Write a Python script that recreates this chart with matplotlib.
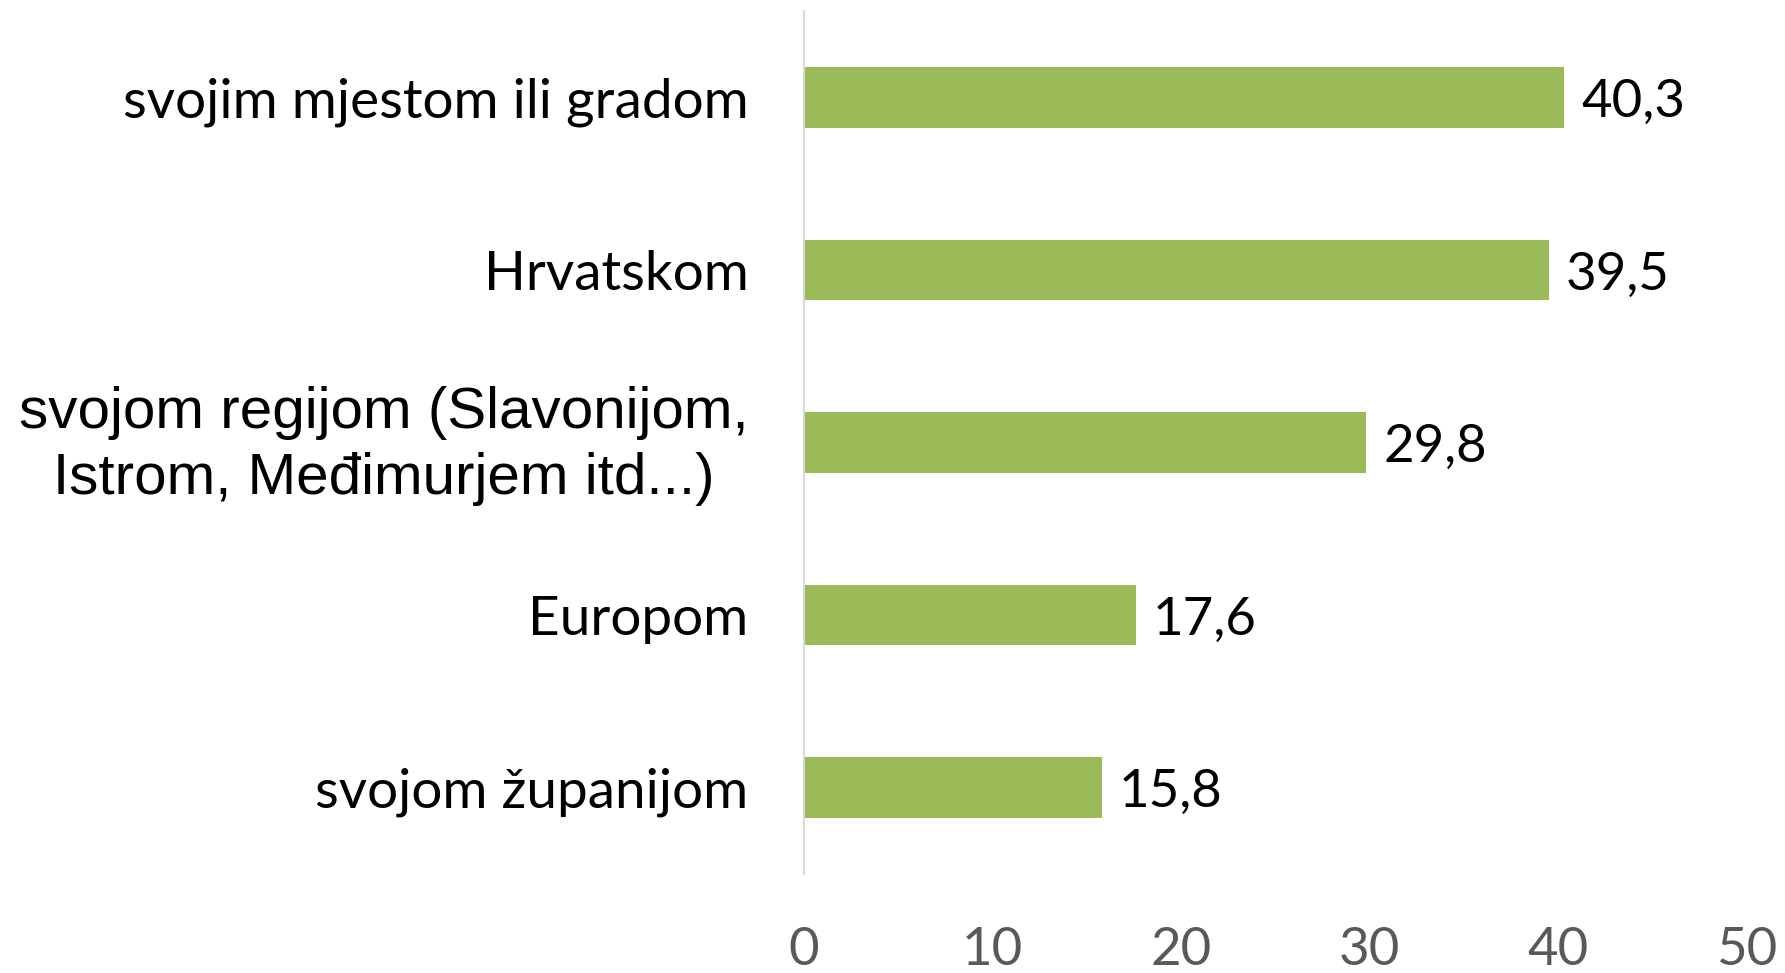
import matplotlib
matplotlib.use("Agg")
import matplotlib.pyplot as plt
from matplotlib.transforms import ScaledTranslation

# categories from top to bottom
categories = [
    "svojim mjestom ili gradom",
    "Hrvatskom",
    "svojom regijom (Slavonijom,\nIstrom, Međimurjem itd...)",
    "Europom",
    "svojom županijom",
]
values = [40.3, 39.5, 29.8, 17.6, 15.8]
xticks = [0, 10, 20, 30, 40, 50]

BAR_COLOR = "#9bbb59"
FONT = "Lato"

fig = plt.figure(figsize=(17.85, 9.73), dpi=100)
ax = fig.add_axes([804 / 1785, 1 - 874 / 973, (1747 - 804) / 1785, (874 - 11) / 973])

ypos = list(range(len(categories)))
ax.barh(ypos, values, height=0.35, color=BAR_COLOR)
ax.set_ylim(len(categories) - 0.5, -0.5)
ax.set_xlim(0, 50)

for y, v in zip(ypos, values):
    ax.text(v + 0.9, y + 0.03, f"{v:.1f}".replace(".", ","), va="center", ha="left",
            fontsize=38, family=FONT, color="black")

ax.set_yticks(ypos)
ax.tick_params(axis="y", length=0, pad=40)
labels = ax.set_yticklabels(categories)
for lab, cat in zip(labels, categories):
    if "\n" in cat:
        # the two-line label is in a different font, nudge it up a little
        lab.set_family("Liberation Sans")
        lab.set_fontsize(42)
        lab.set_multialignment("center")
        lab.set_linespacing(1.3)
        lab.set_transform(lab.get_transform()
                          + ScaledTranslation(0, 0.09, fig.dpi_scale_trans))
    else:
        lab.set_family(FONT)
        lab.set_fontsize(39.5)

ax.set_xticks(xticks)
ax.set_xticklabels([str(t) for t in xticks], family=FONT, fontsize=38, color="#595959")
ax.tick_params(axis="x", length=0, pad=38)

for s in ["top", "right", "bottom"]:
    ax.spines[s].set_visible(False)
ax.spines["left"].set_color("#d9d9d9")
ax.spines["left"].set_linewidth(1.5)

fig.savefig("out.png", dpi=100)
